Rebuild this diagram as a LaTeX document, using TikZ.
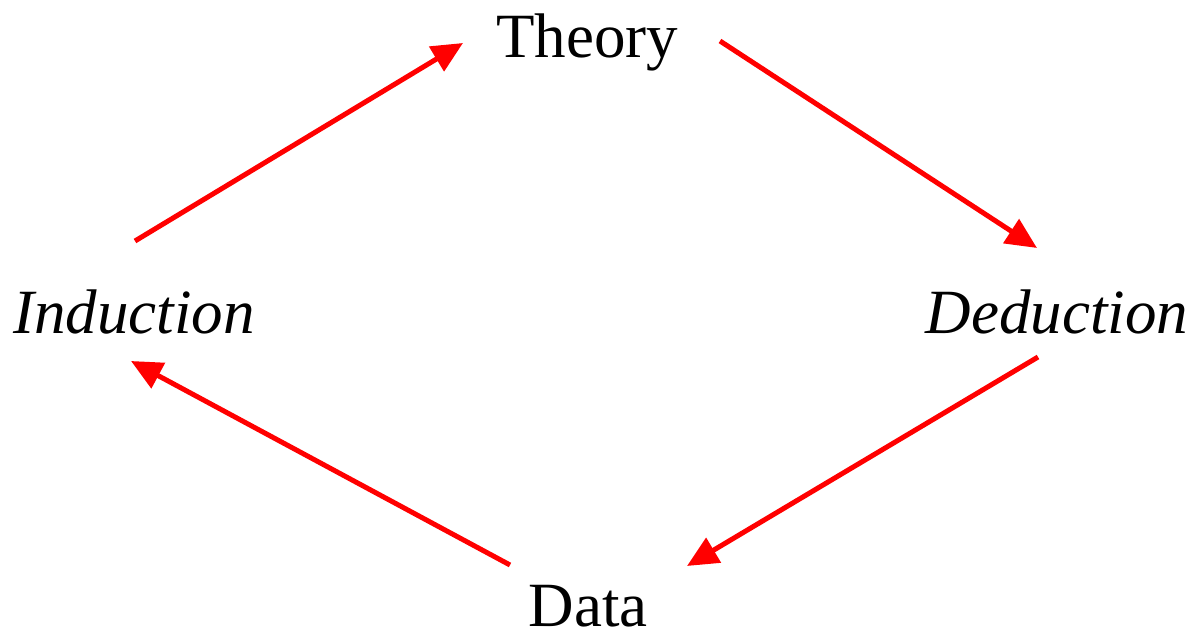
\documentclass[tikz,border=0pt]{standalone}
\usepackage{fontspec}
\setmainfont{Liberation Serif}
\usetikzlibrary{arrows.meta}
\begin{document}
\begin{tikzpicture}[x=1pt, y=-1pt, line cap=butt,
    stage/.style={anchor=base, inner sep=0pt, font=\fontsize{63}{70}\selectfont},
    step arrow/.style={red, line width=5pt, -{Triangle[length=31pt, width=28pt]}}]
        \useasboundingbox (0,0) rectangle (1201,631);

        % ---- the four stages ----
        \node[stage] (theory) at (587,58) {Theory};
        \node[stage] (ded) at (1057,333) {\itshape Deduction};
        \node[stage] (data) at (588,626) {Data};
        \node[stage] (ind) at (134,333) {\itshape Induction};

        % ---- ends of the arrows ----
        \coordinate (ind-out) at (135,241);
        \coordinate (theory-in) at (463,43);
        \coordinate (theory-out) at (720,41);
        \coordinate (ded-in) at (1037,248);
        \coordinate (ded-out) at (1038,357);
        \coordinate (data-in) at (687,566);
        \coordinate (data-out) at (510,565);
        \coordinate (ind-in) at (131,361);

        % ---- the cycle ----
        \draw[step arrow] (ind-out) -- (theory-in);
        \draw[step arrow] (theory-out) -- (ded-in);
        \draw[step arrow] (ded-out) -- (data-in);
        \draw[step arrow] (data-out) -- (ind-in);
    \end{tikzpicture}
\end{document}
